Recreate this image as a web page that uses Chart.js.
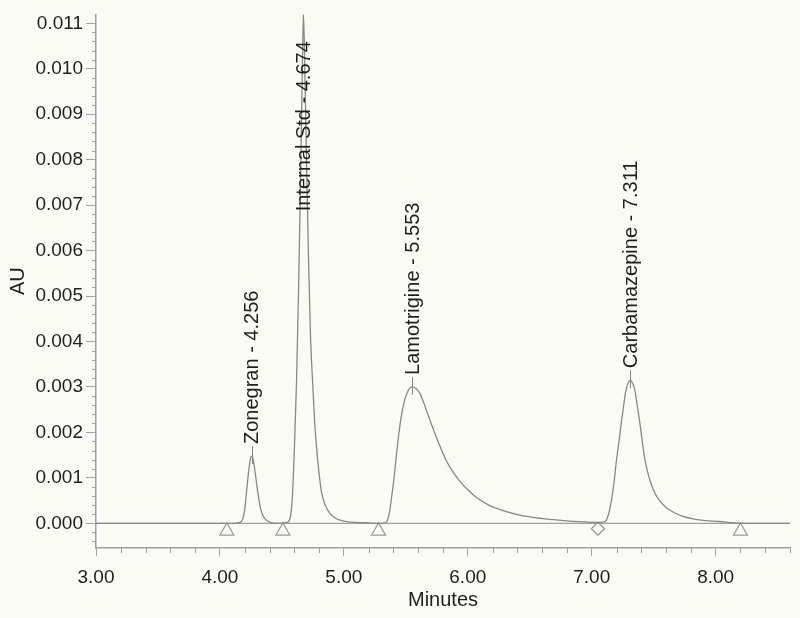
<!DOCTYPE html>
<html>
<head>
<meta charset="utf-8">
<script src="https://cdn.jsdelivr.net/npm/chart.js@4.4.1/dist/chart.umd.min.js"></script>
<style>
  html, body { margin: 0; padding: 0; background: #fbfbf6; }
  #wrap { width: 800px; height: 618px; position: relative; }
</style>
</head>
<body>
<div id="wrap"><canvas id="c" width="800" height="618"></canvas></div>
<script>
// ---- data ----
const times = [3.00, 4.10, 4.16, 4.185, 4.20, 4.215, 4.23, 4.245, 4.256, 4.268, 4.28, 4.295, 4.31, 4.33, 4.355, 4.385, 4.42, 4.47,
  4.54, 4.565, 4.585, 4.60, 4.618, 4.635, 4.65, 4.662, 4.674, 4.687, 4.70, 4.715, 4.73, 4.748, 4.765, 4.78, 4.80, 4.82, 4.85, 4.887, 4.94, 5.00, 5.10, 5.20, 5.30,
  5.344, 5.365, 5.385, 5.405, 5.425, 5.445, 5.465, 5.485, 5.506, 5.53, 5.553, 5.58, 5.613, 5.645, 5.68, 5.715, 5.748, 5.79, 5.828, 5.88, 5.935, 6.00, 6.07, 6.17, 6.285, 6.42, 6.554, 6.69, 6.823, 6.95, 7.06,
  7.105, 7.13, 7.159, 7.18, 7.199, 7.22, 7.24, 7.258, 7.274, 7.293, 7.311, 7.33, 7.347, 7.367, 7.387, 7.407, 7.427, 7.452, 7.481, 7.51, 7.548, 7.60, 7.656, 7.73, 7.817, 7.92, 8.03, 8.15, 8.25, 8.60];
const absorbance = [0, 0, 0.00002, 0.0001, 0.0003, 0.0007, 0.0011, 0.0014, 0.00148, 0.0014, 0.0012, 0.0009, 0.0006, 0.0003, 0.00013, 0.00005, 0.00001, 0,
  0.00002, 0.0001, 0.0006, 0.0016, 0.0031, 0.0052, 0.0075, 0.0095, 0.0112, 0.0097, 0.0078, 0.0058, 0.0042, 0.0031, 0.0022, 0.00166, 0.0011, 0.00068, 0.0004, 0.00022, 0.0001, 0.00005, 0.00002, 0.00001, 0,
  0.00003, 0.0002, 0.00057, 0.001, 0.00152, 0.002, 0.00238, 0.00265, 0.00284, 0.00297, 0.0030, 0.00297, 0.00286, 0.00265, 0.00238, 0.00212, 0.00188, 0.0016, 0.00137, 0.00113, 0.00093, 0.00074, 0.00057, 0.0004, 0.00028, 0.00018, 0.00012, 0.00008, 0.00005, 0.00003, 0.00002,
  0.00003, 0.00015, 0.0005, 0.0009, 0.00137, 0.0018, 0.00224, 0.0026, 0.00289, 0.00308, 0.00315, 0.00308, 0.00294, 0.0026, 0.00224, 0.00182, 0.00144, 0.00112, 0.00086, 0.00066, 0.0005, 0.00035, 0.00025, 0.00016, 0.0001, 0.00006, 0.00004, 0.00001, 0, 0];

const peakNames = ['Zonegran', 'Internal Std', 'Lamotrigine', 'Carbamazepine'];
const peakTimes = [4.256, 4.674, 5.553, 7.311];
const peakHeights = [0.00148, 0.0112, 0.0030, 0.00315];

const triangleTimes = [4.056, 4.508, 5.28, 8.2];
const diamondTimes = [7.05];
const markerLevel = -0.00017;

const xTicks = [3, 4, 5, 6, 7, 8];
const yTicks = [0, 0.001, 0.002, 0.003, 0.004, 0.005, 0.006, 0.007, 0.008, 0.009, 0.010, 0.011];
const xRange = [3, 8.6];
const yRange = [-0.000543, 0.011196];
const labelCap = 0.0066;

// ---- styling ----
const FONT = 'Liberation Sans, Arial, Helvetica, sans-serif';
const axisColor = '#97a2ae';
const curveColor = '#878787';
const textColor = '#1e1e1e';

const curve = times.map((t, i) => ({ x: t, y: absorbance[i] }));

const bgPlugin = {
  id: 'bg',
  beforeDraw(chart) {
    const ctx = chart.ctx;
    ctx.save();
    ctx.fillStyle = '#fbfbf6';
    ctx.fillRect(0, 0, chart.width, chart.height);
    ctx.restore();
  }
};

const minorTicks = {
  id: 'minorTicks',
  afterDraw(chart) {
    const { ctx, chartArea, scales } = chart;
    const xs = scales.x, ys = scales.y;
    ctx.save();
    ctx.strokeStyle = axisColor;
    ctx.lineWidth = 1;
    ctx.beginPath();
    for (let k = 0; ; k++) {
      const v = xRange[0] + k * 0.2;
      if (v > xRange[1] + 1e-9) break;
      if (k % 5 === 0) continue;
      const px = Math.round(xs.getPixelForValue(v)) + 0.5;
      ctx.moveTo(px, chartArea.bottom);
      ctx.lineTo(px, chartArea.bottom + 5);
    }
    for (let k = -2; ; k++) {
      const v = k * 0.0002;
      if (v > yRange[1]) break;
      if (((k % 5) + 5) % 5 === 0) continue;
      const py = Math.round(ys.getPixelForValue(v)) + 0.5;
      ctx.moveTo(chartArea.left - 4, py);
      ctx.lineTo(chartArea.left, py);
    }
    ctx.stroke();
    ctx.restore();
  }
};

const peakLabels = {
  id: 'peakLabels',
  afterDatasetsDraw(chart) {
    const { ctx, scales } = chart;
    const xs = scales.x, ys = scales.y;
    ctx.save();
    peakNames.forEach((name, i) => {
      const px = xs.getPixelForValue(peakTimes[i]);
      const h = Math.min(peakHeights[i], labelCap);
      const py = ys.getPixelForValue(h);
      if (peakHeights[i] <= labelCap) {
        ctx.strokeStyle = curveColor;
        ctx.lineWidth = 1;
        ctx.beginPath();
        ctx.moveTo(Math.round(px) + 0.5, py + 8);
        ctx.lineTo(Math.round(px) + 0.5, py - 10);
        ctx.stroke();
      }
      ctx.save();
      ctx.translate(px + 1, py - 12);
      ctx.rotate(-Math.PI / 2);
      ctx.fillStyle = textColor;
      ctx.font = '20px ' + FONT;
      ctx.textAlign = 'left';
      ctx.textBaseline = 'middle';
      ctx.fillText(name + ' - ' + peakTimes[i].toFixed(3), 0, 0);
      ctx.restore();
    });
    ctx.restore();
  }
};

new Chart(document.getElementById('c'), {
  type: 'line',
  data: {
    datasets: [
      {
        label: 'baseline',
        data: [{ x: xRange[0], y: 0 }, { x: xRange[1], y: 0 }],
        borderColor: '#9aa1a8',
        borderWidth: 1.3,
        pointRadius: 0,
        order: 3
      },
      {
        label: 'AU',
        data: curve,
        borderColor: curveColor,
        borderWidth: 1.3,
        pointRadius: 0,
        cubicInterpolationMode: 'monotone',
        fill: false,
        order: 1
      },
      {
        label: 'triangles',
        type: 'scatter',
        data: triangleTimes.map(t => ({ x: t, y: markerLevel })),
        pointStyle: 'triangle',
        pointRadius: 8,
        borderColor: '#9a9a9a',
        backgroundColor: 'rgba(0,0,0,0)',
        borderWidth: 1.3,
        order: 2
      },
      {
        label: 'diamonds',
        type: 'scatter',
        data: diamondTimes.map(t => ({ x: t, y: markerLevel + 0.00005 })),
        pointStyle: 'rectRot',
        pointRadius: 6.5,
        borderColor: '#9a9a9a',
        backgroundColor: 'rgba(0,0,0,0)',
        borderWidth: 1.3,
        order: 2
      }
    ]
  },
  options: {
    responsive: false,
    animation: false,
    devicePixelRatio: 1,
    layout: { padding: { top: 8, right: 10, left: 0, bottom: 0 } },
    plugins: { legend: { display: false }, tooltip: { enabled: false } },
    elements: { line: { tension: 0 } },
    scales: {
      x: {
        type: 'linear',
        min: xRange[0],
        max: xRange[1],
        afterBuildTicks: s => { s.ticks = xTicks.map(v => ({ value: v })); },
        afterFit: s => { s.height = 70; },
        grid: { drawOnChartArea: false, drawTicks: true, tickLength: 8, color: axisColor, lineWidth: 1 },
        border: { display: true, color: axisColor, width: 1.5 },
        ticks: {
          callback: v => Number(v).toFixed(2),
          font: { family: FONT, size: 19 },
          color: textColor,
          padding: 10,
          maxRotation: 0,
          autoSkip: false
        },
        title: { display: true, text: 'Minutes', color: textColor, font: { family: FONT, size: 20 }, padding: { top: 0, bottom: 6 } }
      },
      y: {
        type: 'linear',
        min: yRange[0],
        max: yRange[1],
        afterBuildTicks: s => { s.ticks = yTicks.map(v => ({ value: v })); },
        afterFit: s => { s.width = 96; },
        grid: { drawOnChartArea: false, drawTicks: true, tickLength: 10, color: axisColor, lineWidth: 1 },
        border: { display: true, color: axisColor, width: 1.5 },
        ticks: {
          callback: v => Number(v).toFixed(3),
          font: { family: FONT, size: 19 },
          color: textColor,
          padding: 3,
          autoSkip: false
        },
        title: { display: true, text: 'AU', color: textColor, font: { family: FONT, size: 20 }, padding: { top: 6, bottom: 0 } }
      }
    }
  },
  plugins: [bgPlugin, minorTicks, peakLabels]
});
</script>
</body>
</html>
